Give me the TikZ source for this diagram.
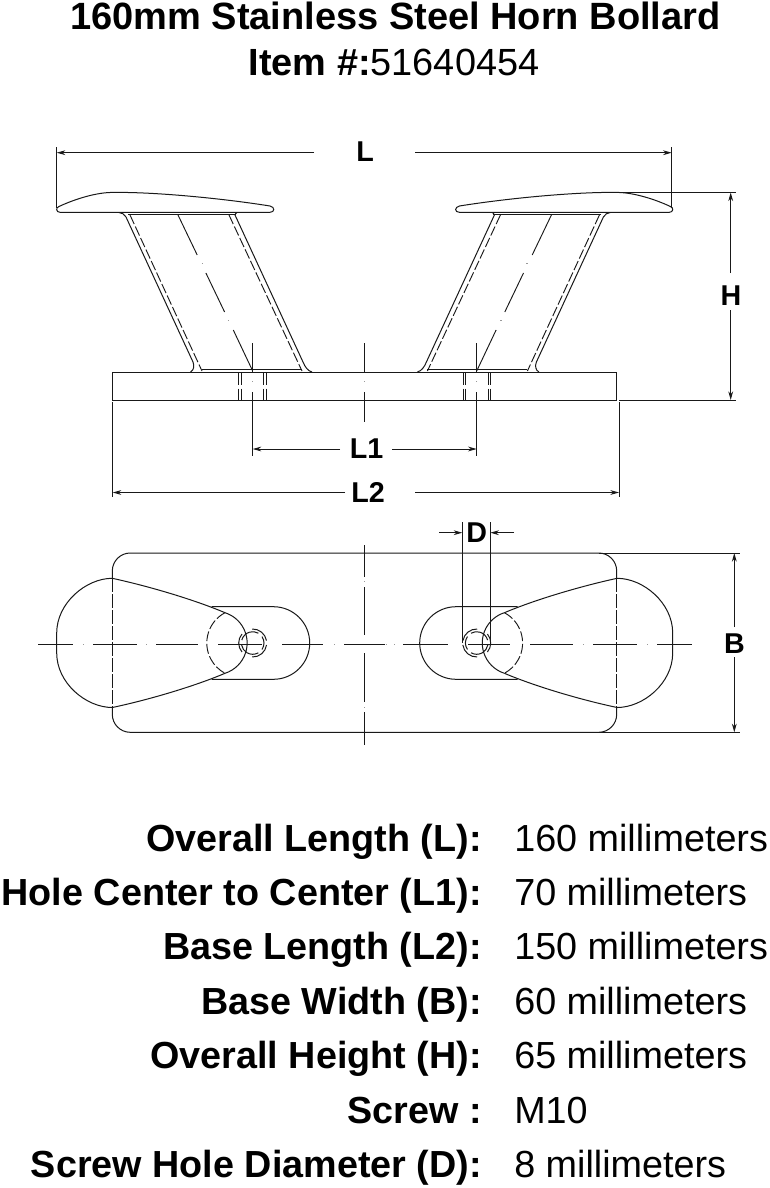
\documentclass[tikz,border=0pt]{standalone}
\usepackage{fontspec}
\setmainfont{Liberation Sans}
\usetikzlibrary{arrows.meta}
\tikzset{
  part/.style={draw=black!90,line width=.75pt},
  hidden/.style={draw=black!90,line width=.7pt,dash pattern=on 7.5pt off 2pt},
  longhidden/.style={draw=black!90,line width=.7pt,dash pattern=on 10pt off 2pt},
  thin line/.style={draw=black!90,line width=.7pt},
  tick/.style={draw=black!40,line width=.4pt},
  dimline/.style={draw=black!90,line width=.7pt},
  oneway/.style={dimline,-{Stealth[length=6.5pt,width=3.6pt]}},
  lbl/.style={font=\fontsize{21.5}{24}\selectfont\bfseries,inner sep=0pt},
  titletext/.style={font=\fontsize{28.4}{30}\selectfont,inner sep=0pt,anchor=base},
  keytext/.style={font=\fontsize{28.3}{30}\selectfont\bfseries,inner sep=0pt,anchor=base east},
  valtext/.style={font=\fontsize{28.3}{30}\selectfont,inner sep=0pt,anchor=base west},
}
\newcommand{\hornSide}{%
  \draw[part] (60,212.3) .. controls (56,212.3) and (55.5,207.5) .. (59,206.5)
     .. controls (75,199) and (95,193) .. (110,192.5)
     .. controls (150,191.5) and (220,198) .. (270,206)
     .. controls (275,207) and (275,212.3) .. (270,212.3) -- cycle;
  \draw[part] (128,214.8) -- (236,214.8);
  \draw[part] (202,369.7) -- (302,369.7);
  % post outlines
  \draw[part] (119,212.5) .. controls (122,213) and (124.5,214) .. (126,217) -- (193,362)
     .. controls (194.5,366) and (194,370) .. (190.5,372);
  \draw[part] (237,212.5) .. controls (236,213.5) and (235,214) .. (235,215) -- (303,362)
     .. controls (305,367) and (308,371) .. (312,372);
  \draw[hidden] (130,215) -- (202,371);
  \draw[hidden] (229,215) -- (302,371);
  % post axis
  \draw[thin line] (178,215) -- (197.2,255);
  \draw[thin line] (205.9,273) -- (224.6,312);
  \draw[thin line] (233.3,330) -- (252.7,371);
  \draw[tick] (201.8,263.3) -- (203,263.3);
  \draw[tick] (227.8,320.7) -- (229,320.7);
  % hole through the plate
  \foreach \hx in {238.7,241.2,263.6,266.1}{
    \draw[thin line] (\hx,372) -- (\hx,385);
    \draw[thin line] (\hx,388.5) -- (\hx,400);
  }
  \draw[tick] (252.2,381) -- (253.4,381);
}
\newcommand{\hornTop}{%
  \draw[part] (112.3,578.3) .. controls (86,578.3) and (56.7,603) .. (56.7,633) -- (56.7,653)
     .. controls (56.7,683) and (86,707.5) .. (112.3,707.5);
  \draw[part] (112.3,578.3) .. controls (150,586.5) and (195,600) .. (225,612.7);
  \draw[part] (112.3,707.5) .. controls (150,699.5) and (195,686) .. (225,673.3);
  \draw[part] (225,612.7) arc[start angle=-72.3,end angle=72.3,radius=31.8];
  \draw[hidden] (225,612.7) arc[start angle=-118,end angle=-242,radius=34.3];
  % slot
  \draw[part] (211.7,606.7) -- (273.4,606.7) arc[start angle=-90,end angle=90,radius=36.3] -- (211.7,679.3);
  % screw hole
  \foreach \a/\b in {-92/-10,8/92,140/220}{
    \draw[part] ({252.7+14*cos(\a)},{643+14*sin(\a)}) arc[start angle=\a,end angle=\b,radius=14];
  }
  \foreach \a/\b in {-165/-60,-35/35,60/170}{
    \draw[part] ({252.7+11.3*cos(\a)},{643+11.3*sin(\a)}) arc[start angle=\a,end angle=\b,radius=11.3];
  }
}
\begin{document}
\begin{tikzpicture}[x=.75pt,y=.75pt,yscale=-1]
\useasboundingbox (0,0) rectangle (770,1188);
\fill[white] (0,0) rectangle (770,1188);

% ---- titles
\node[titletext,font=\fontsize{28.5}{30}\selectfont\bfseries] (title1) at (395.5,30) {160mm Stainless Steel Horn Bollard};
\node[titletext] (title2) at (394,75) {\textbf{Item \#:}51640454};

% ---- side view
\hornSide
\begin{scope}[shift={(729.4,0)},xscale=-1]
  \hornSide
\end{scope}
\draw[part] (112.7,372) rectangle (616.7,400);

% centre line of side view
\draw[thin line] (364.7,343) -- (364.7,372);
\draw[thin line] (364.7,392) -- (364.7,422);
\draw[tick] (364.2,381) -- (365.4,381);

% hole axes / extension lines
\coordinate (holeLtop) at (252.7,343);
\coordinate (holeLa) at (252.7,372);
\coordinate (holeLb) at (252.7,392);
\coordinate (holeLc) at (252.7,456);
\coordinate (holeRtop) at (476.7,343);
\coordinate (holeRa) at (476.7,372);
\coordinate (holeRb) at (476.7,392);
\coordinate (holeRc) at (476.7,456);
\draw[thin line] (holeLtop) -- (holeLa);
\draw[thin line] (holeLb) -- (holeLc);
\draw[thin line] (holeRtop) -- (holeRa);
\draw[thin line] (holeRb) -- (holeRc);

% L
\node[lbl] (labL) at (365,152) {L};
\coordinate (Lx1) at (56.7,147);
\coordinate (Lx1b) at (56.7,208);
\coordinate (Lx2) at (671.7,147);
\coordinate (Lx2b) at (671.7,208);
\coordinate (Ld1) at (56.7,152.7);
\coordinate (Ld1s) at (314,152.7);
\coordinate (Ld2) at (671.7,152.7);
\coordinate (Ld2s) at (415,152.7);
\draw[thin line] (Lx1) -- (Lx1b);
\draw[thin line] (Lx2) -- (Lx2b);
\draw[oneway] (Ld1s) -- (Ld1);
\draw[oneway] (Ld2s) -- (Ld2);

% H
\node[lbl] (labH) at (731,296) {H};
\coordinate (Hx1) at (622,192.5);
\coordinate (Hx1e) at (736,192.5);
\coordinate (Hx2) at (619,400);
\coordinate (Hx2e) at (736,400);
\coordinate (Hd1) at (730.7,192.5);
\coordinate (Hd1s) at (730.7,273);
\coordinate (Hd2) at (730.7,400);
\coordinate (Hd2s) at (730.7,310);
\draw[thin line] (Hx1) -- (Hx1e);
\draw[thin line] (Hx2) -- (Hx2e);
\draw[oneway] (Hd1s) -- (Hd1);
\draw[oneway] (Hd2s) -- (Hd2);

% L1
\node[lbl] (labLone) at (366.5,449) {L1};
\coordinate (Lone1) at (252.7,449);
\coordinate (Lone1s) at (340,449);
\coordinate (Lone2) at (476.7,449);
\coordinate (Lone2s) at (392,449);
\draw[oneway] (Lone1s) -- (Lone1);
\draw[oneway] (Lone2s) -- (Lone2);

% L2
\node[lbl] (labLtwo) at (368,492) {L2};
\coordinate (Ltx1) at (112.7,402);
\coordinate (Ltx1e) at (112.7,497);
\coordinate (Ltx2) at (619,402);
\coordinate (Ltx2e) at (619,497);
\coordinate (Ltd1) at (112.7,492.5);
\coordinate (Ltd1s) at (345,492.5);
\coordinate (Ltd2) at (619,492.5);
\coordinate (Ltd2s) at (415,492.5);
\draw[thin line] (Ltx1) -- (Ltx1e);
\draw[thin line] (Ltx2) -- (Ltx2e);
\draw[oneway] (Ltd1s) -- (Ltd1);
\draw[oneway] (Ltd2s) -- (Ltd2);

% ---- top view
\draw[part] (112.3,578.3) -- (112.3,571) arc[start angle=180,end angle=270,radius=18]
   -- (598.7,553) arc[start angle=-90,end angle=0,radius=18] -- (616.7,578.3);
\draw[part] (112.3,707.5) -- (112.3,714.3) arc[start angle=180,end angle=90,radius=18]
   -- (598.7,732.3) arc[start angle=90,end angle=0,radius=18] -- (616.7,707.5);
\draw[longhidden] (112.3,578.3) -- (112.3,707.5);
\draw[longhidden] (616.7,578.3) -- (616.7,707.5);
\hornTop
\begin{scope}[shift={(729.4,0)},xscale=-1]
  \hornTop
\end{scope}

% centre lines of top view
\foreach \a/\b in {38/73,93/137,156/198,218/262,282/323,344/385,403/448,468/510,530/573,593/637,657/692}{
  \draw[thin line] (\a,644) -- (\b,644);
}
\foreach \dx in {83,146,385.5,394,583,647,334}{
  \draw[tick] (\dx,644) -- ({\dx+1.2},644);
}
\foreach \a/\b in {545/577,587/635,653/702,712/745}{
  \draw[thin line] (364.7,\a) -- (364.7,\b);
}
\draw[tick] (364.1,581.5) -- (365.3,581.5);
\draw[tick] (364.1,707) -- (365.3,707);

% D
\node[lbl] (labD) at (476.7,533) {D};
\coordinate (Dx1) at (462.3,522);
\coordinate (Dx1e) at (462.3,643);
\coordinate (Dx2) at (490.3,522);
\coordinate (Dx2e) at (490.3,643);
\coordinate (Dd1) at (462.3,532.7);
\coordinate (Dd1s) at (439.3,532.7);
\coordinate (Dd2) at (490.3,532.7);
\coordinate (Dd2s) at (514,532.7);
\draw[thin line] (Dx1) -- (Dx1e);
\draw[thin line] (Dx2) -- (Dx2e);
\draw[oneway] (Dd1s) -- (Dd1);
\draw[oneway] (Dd2s) -- (Dd2);

% B
\node[lbl] (labB) at (734.5,643.5) {B};
\coordinate (Bx1) at (598.7,553);
\coordinate (Bx1e) at (740,553);
\coordinate (Bx2) at (598.7,732.3);
\coordinate (Bx2e) at (740,732.3);
\coordinate (Bd1) at (734.3,553);
\coordinate (Bd1s) at (734.3,627);
\coordinate (Bd2) at (734.3,732.3);
\coordinate (Bd2s) at (734.3,657);
\draw[thin line] (Bx1) -- (Bx1e);
\draw[thin line] (Bx2) -- (Bx2e);
\draw[oneway] (Bd1s) -- (Bd1);
\draw[oneway] (Bd2s) -- (Bd2);

% ---- specification table
\node[keytext] (k1) at (482,851.5) {Overall Length (L):};
\node[valtext] (v1) at (514,851) {160 millimeters};
\node[keytext] (k2) at (482,905.5) {Hole Center to Center (L1):};
\node[valtext] (v2) at (514,905) {70 millimeters};
\node[keytext] (k3) at (482,959.5) {Base Length (L2):};
\node[valtext] (v3) at (514,959) {150 millimeters};
\node[keytext] (k4) at (482,1014) {Base Width (B):};
\node[valtext] (v4) at (514,1014) {60 millimeters};
\node[keytext] (k5) at (482,1068) {Overall Height (H):};
\node[valtext] (v5) at (514,1068) {65 millimeters};
\node[keytext] (k6) at (482,1123) {Screw :};
\node[valtext] (v6) at (514,1123) {M10};
\node[keytext] (k7) at (482,1177) {Screw Hole Diameter (D):};
\node[valtext] (v7) at (514,1177) {8 millimeters};
\end{tikzpicture}
\end{document}
